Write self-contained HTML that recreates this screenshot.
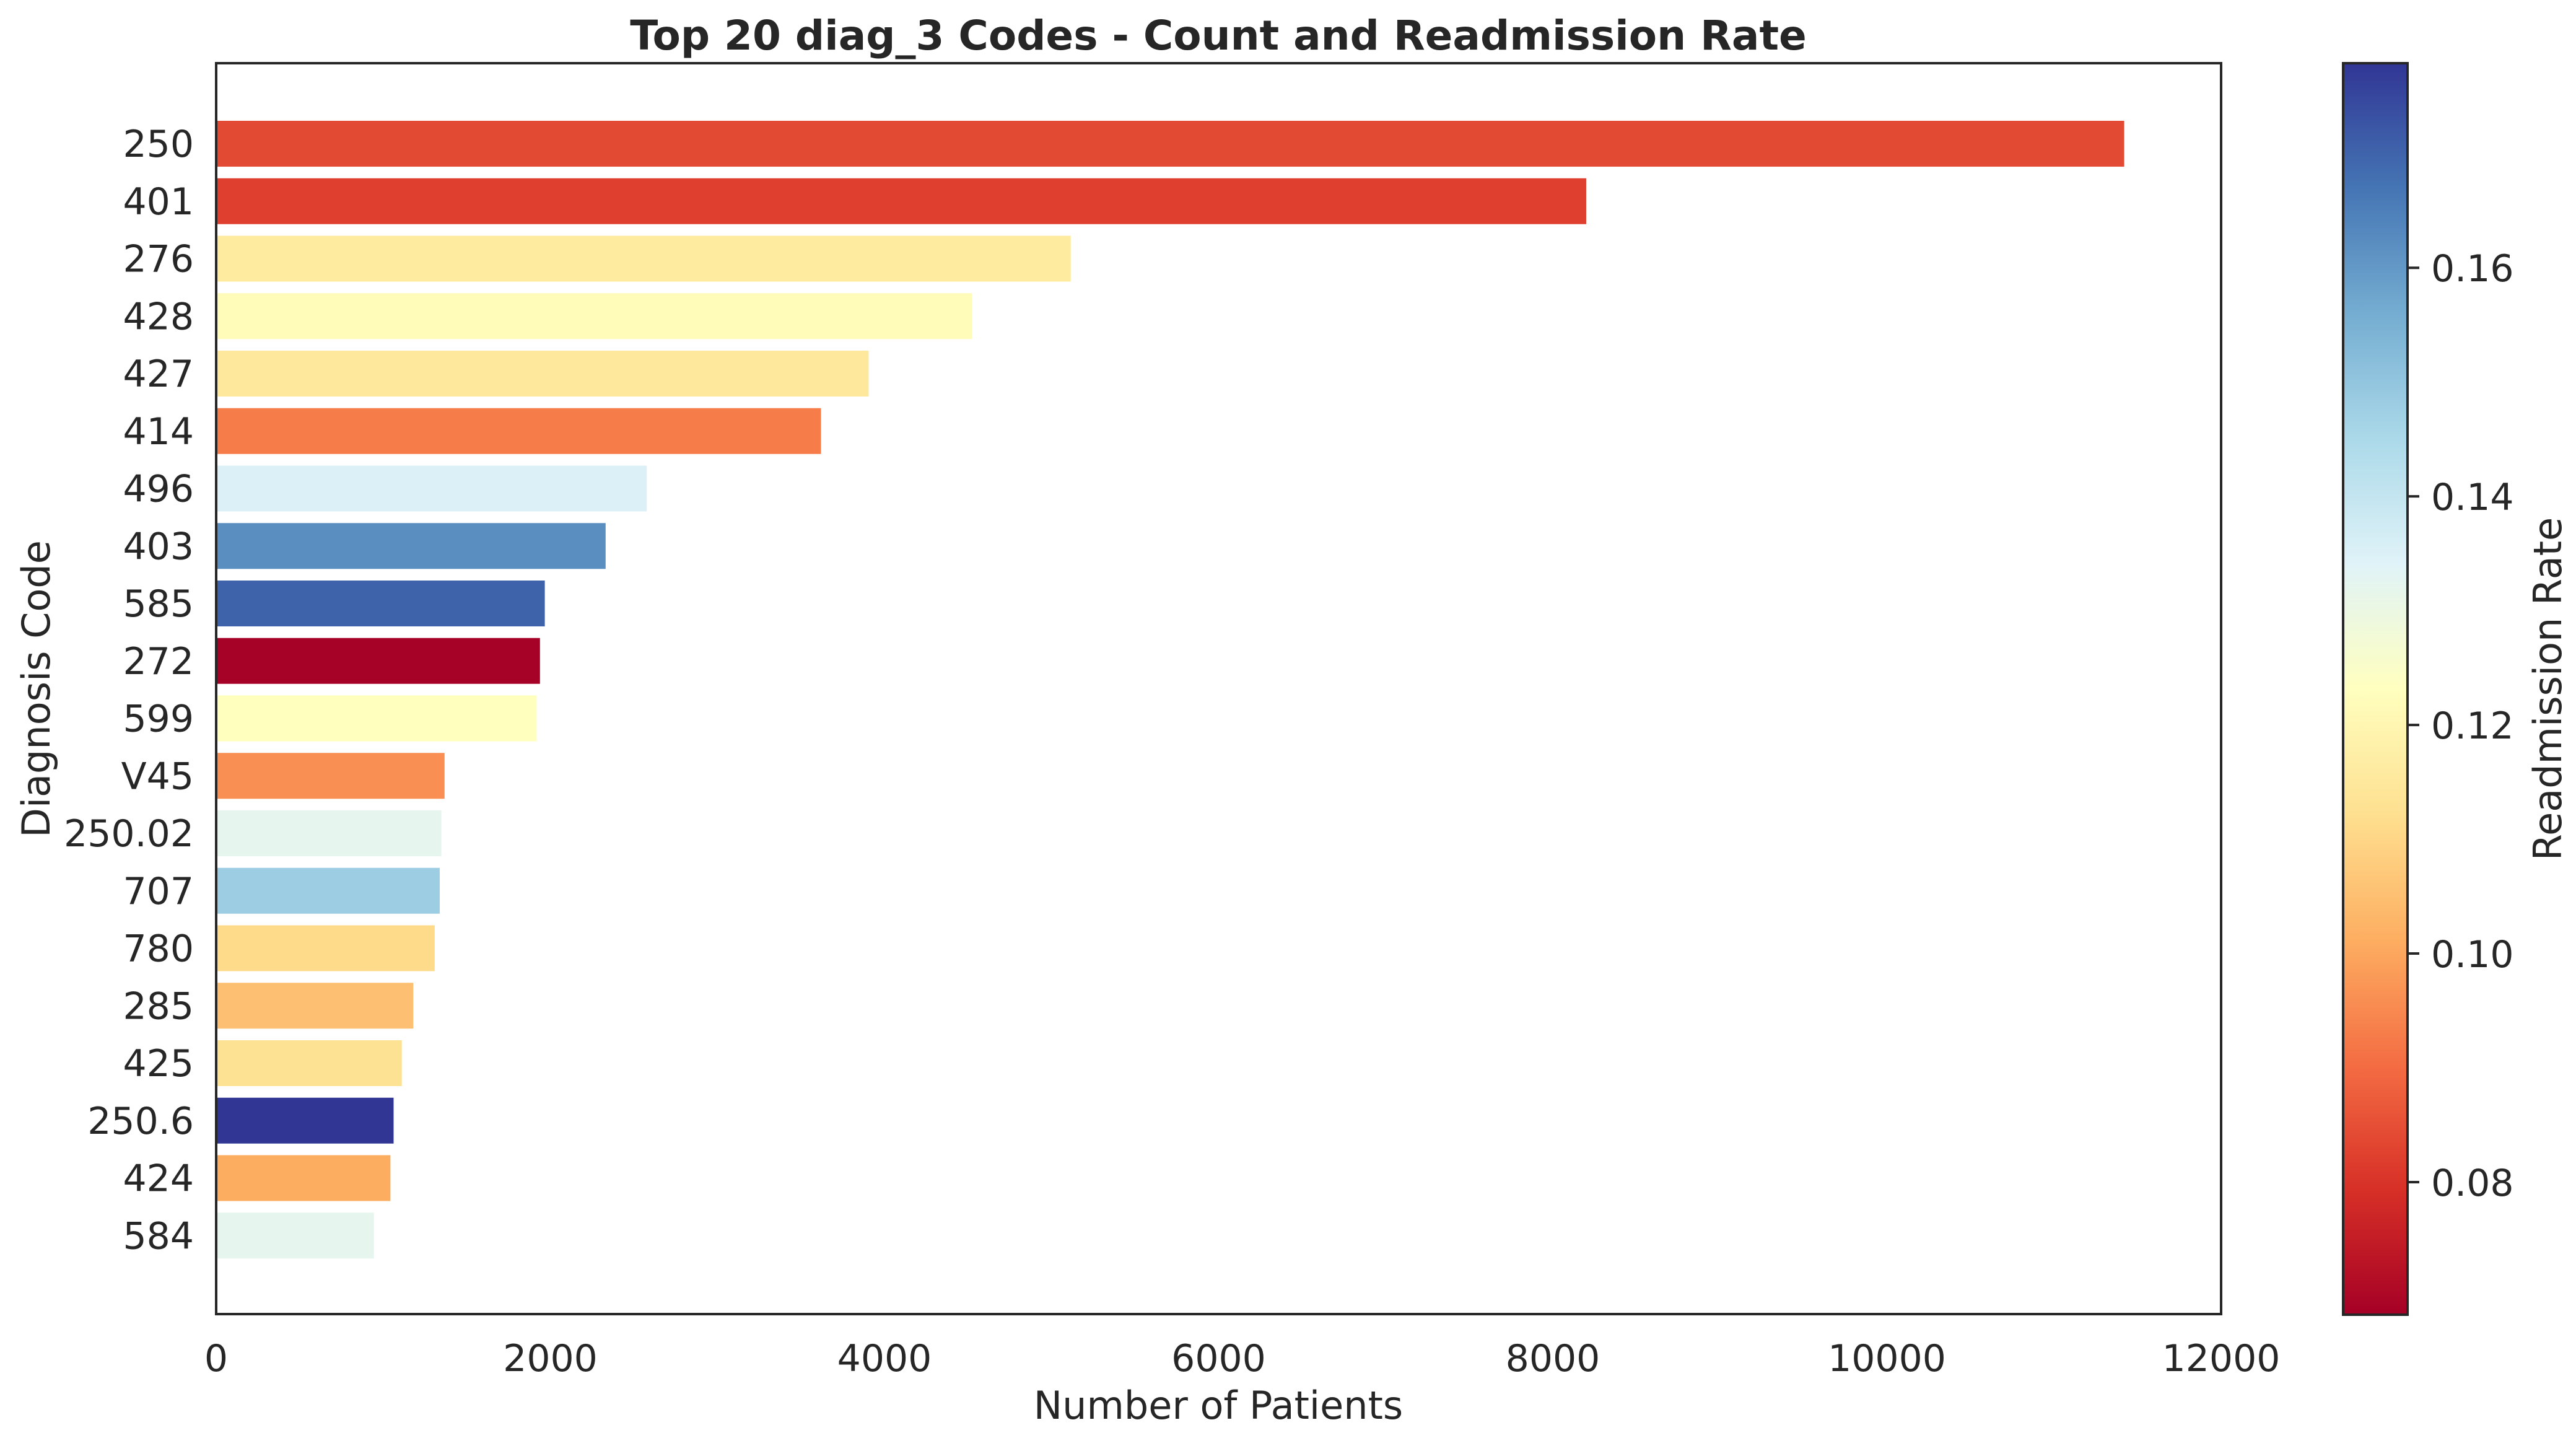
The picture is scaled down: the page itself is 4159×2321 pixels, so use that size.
<!DOCTYPE html>
<html><head><meta charset="utf-8">
<style>
html,body{margin:0;padding:0;background:#fff;}
svg{display:block;font-family:"DejaVu Sans","Liberation Sans",sans-serif;}
</style></head>
<body>
<svg id="chart" width="4159" height="2321" viewBox="0 0 4159 2321" xmlns="http://www.w3.org/2000/svg">
<defs>
<linearGradient id="cmap" x1="0" y1="1" x2="0" y2="0">
<stop offset="0" stop-color="#a50026"/><stop offset="0.1" stop-color="#d73027"/><stop offset="0.2" stop-color="#f46d43"/><stop offset="0.3" stop-color="#fdae61"/><stop offset="0.4" stop-color="#fee090"/><stop offset="0.5" stop-color="#ffffbf"/><stop offset="0.6" stop-color="#e0f3f8"/><stop offset="0.7" stop-color="#abd9e9"/><stop offset="0.8" stop-color="#74add1"/><stop offset="0.9" stop-color="#4575b4"/><stop offset="1" stop-color="#313695"/>
</linearGradient>
</defs>
<text x="1967" y="80" text-anchor="middle" font-size="66" font-weight="bold" fill="#262626">Top 20 diag_3 Codes - Count and Readmission Rate</text>
<g id="bars"></g>
<g id="xticks"></g>
<g id="yticks"></g>
<rect x="349" y="102" width="3237" height="2019" fill="none" stroke="#262626" stroke-width="4"/>
<text x="1967" y="2290" text-anchor="middle" font-size="62" fill="#262626">Number of Patients</text>
<text transform="translate(80,1112) rotate(-90)" text-anchor="middle" font-size="62" fill="#262626">Diagnosis Code</text>
<rect x="3783" y="102" width="104" height="2020" fill="url(#cmap)" stroke="#262626" stroke-width="4"/>
<g id="cticks"></g>
<text transform="translate(4135,1112) rotate(-90)" text-anchor="middle" font-size="62" fill="#262626">Readmission Rate</text>
</svg>
<script>
const codes = ["250","401","276","428","427","414","496","403","585","272","599","V45","250.02","707","780","285","425","250.6","424","584"];
const counts = [11420,8200,5115,4525,3905,3620,2577,2331,1967,1938,1918,1367,1348,1338,1308,1180,1111,1062,1043,944];
const rates = [0.084,0.082,0.116,0.122,0.115,0.093,0.135,0.162,0.170,0.0687,0.123,0.096,0.132,0.148,0.111,0.105,0.113,0.178,0.101,0.132];
const xTicks = [0,2000,4000,6000,8000,10000,12000];
const cTicks = [0.08,0.10,0.12,0.14,0.16];

const NS = "http://www.w3.org/2000/svg";
const X0 = 349, X1 = 3586, XMAX = 12000;
const xScale = v => X0 + (v / XMAX) * (X1 - X0);
const yScale = i => 232 + i * 92.75;
const BAR_H = 74;
const CMIN = 0.0684, CMAX = 0.1779, CB_TOP = 102, CB_BOT = 2122;
const cScale = v => CB_BOT - (v - CMIN) / (CMAX - CMIN) * (CB_BOT - CB_TOP);
const stops = ["#a50026","#d73027","#f46d43","#fdae61","#fee090","#ffffbf","#e0f3f8","#abd9e9","#74add1","#4575b4","#313695"];
function hex(c){return [1,3,5].map(k=>parseInt(c.substr(k,2),16));}
function colorFor(r){
  let t = Math.max(0, Math.min(1, (r - CMIN) / (CMAX - CMIN))) * 10;
  let i = Math.min(9, Math.floor(t)), f = t - i;
  const a = hex(stops[i]), b = hex(stops[i+1]);
  return "rgb(" + a.map((v,k)=>Math.round(v + (b[k]-v)*f)).join(",") + ")";
}
function mk(tag, attrs, parent){
  const e = document.createElementNS(NS, tag);
  for (const k in attrs) e.setAttribute(k, attrs[k]);
  parent.appendChild(e); return e;
}
const gb = document.getElementById("bars"), gx = document.getElementById("xticks"), gy = document.getElementById("yticks"), gc = document.getElementById("cticks");
codes.forEach((c, i) => {
  const r = mk("rect", {x: X0, y: yScale(i) - BAR_H/2, width: xScale(counts[i]) - X0, height: BAR_H, fill: colorFor(rates[i])}, gb);
  
  
  const t = mk("text", {x: 313, y: yScale(i) + 21, "text-anchor": "end", "font-size": 60, fill: "#262626"}, gy);
  t.textContent = c;
  
  
});
xTicks.forEach(v => {
  const t = mk("text", {x: xScale(v), y: 2213, "text-anchor": "middle", "font-size": 60, fill: "#262626"}, gx);
  t.textContent = v;
  
  
});
cTicks.forEach(v => {
  const y = cScale(v);
  const l = mk("line", {x1: 3887, x2: 3906, y1: y, y2: y, stroke: "#262626", "stroke-width": 4}, gc);
  
  
  const t = mk("text", {x: 3925, y: y + 22, "font-size": 60, fill: "#262626"}, gc);
  t.textContent = v.toFixed(2);
  
  
});
</script>
</body></html>
